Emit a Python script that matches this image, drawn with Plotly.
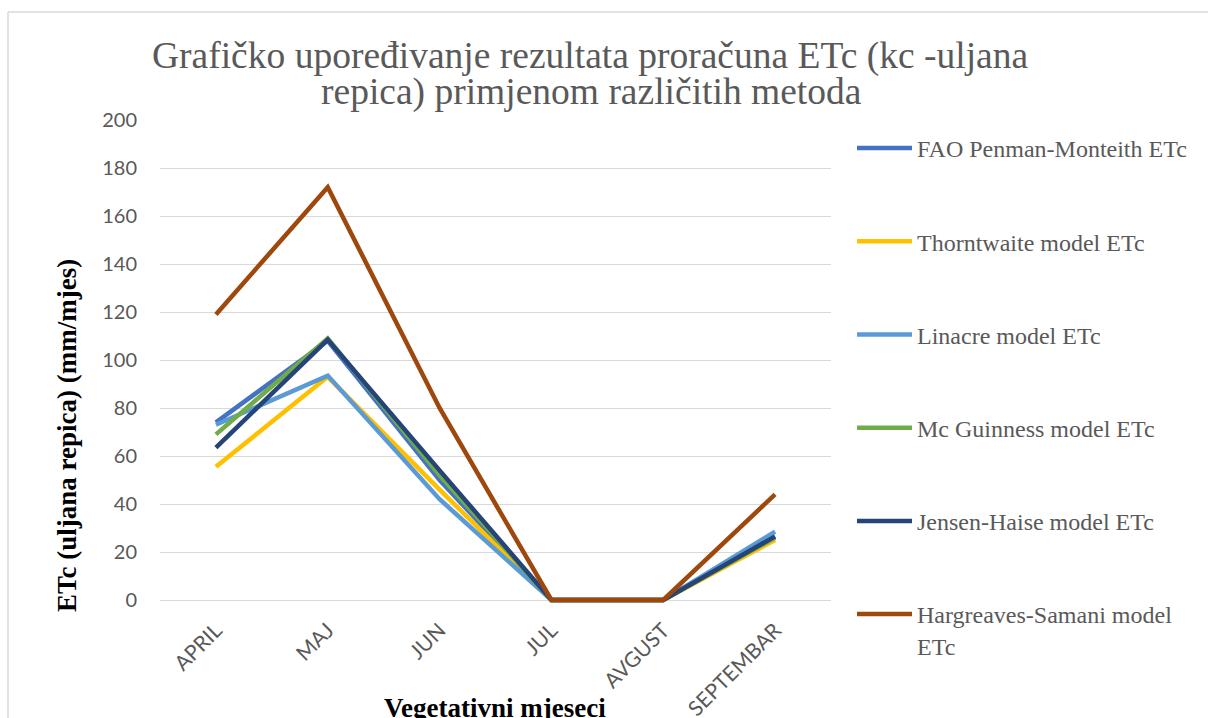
import plotly.graph_objects as go

months = ["APRIL", "MAJ", "JUN", "JUL", "AVGUST", "SEPTEMBAR"]

fao = [74, 108, 50, 0, 0, 26]
thornthwaite = [55.5, 93, 46, 0, 0, 25]
linacre = [73, 93.5, 42, 0, 0, 28.5]
mcguinness = [69, 109, 52, 0, 0, 26]
jensen_haise = [63.5, 108.5, 54, 0, 0, 26.5]
hargreaves = [119, 172, 80, 0, 0, 44]

names = [
    "FAO Penman-Monteith ETc",
    "Thorntwaite model ETc",
    "Linacre model ETc",
    "Mc Guinness model ETc",
    "Jensen-Haise model ETc",
    "Hargreaves-Samani model<br>ETc",
]
series = [fao, thornthwaite, linacre, mcguinness, jensen_haise, hargreaves]
colors = ["#4472C4", "#FFC000", "#5B9BD5", "#70AD47", "#264478", "#9E480E"]

W, H = 1208, 718
# plot area in page pixels
PL, PR, PT, PB = 160, 831, 120, 612
YMIN, YMAX = -5, 200


def px(x):
    return (x - PL) / (PR - PL)


def py(y):
    return (PB - y) / (PB - PT)


fig = go.Figure()
for i, (n, s, c) in enumerate(zip(names, series, colors)):
    fig.add_trace(go.Scatter(
        x=months, y=s, name=n, mode="lines",
        line=dict(color=c, width=4.5),
        legendgroup=f"g{i}",
    ))

serif = "'Liberation Serif', 'Times New Roman', serif"
sans = "Lato, 'Open Sans', sans-serif"
gray = "#595959"

fig.update_layout(
    width=W, height=H,
    margin=dict(l=PL, r=W - PR, t=PT, b=H - PB, autoexpand=False),
    paper_bgcolor="white", plot_bgcolor="white",
    showlegend=True,
    legend=dict(
        x=px(852), y=py(126), xanchor="left", yanchor="top",
        font=dict(family=serif, size=24, color=gray),
        tracegroupgap=59, itemwidth=55, valign="top",
        bgcolor="rgba(0,0,0,0)", maxheight=700,
    ),
    xaxis=dict(
        range=[-0.5, 5.5], automargin=False,
        showgrid=False, showline=False, ticks="",
        tickangle=-45, tickfont=dict(family=sans, size=21, color=gray),
        ticklabelstandoff=1,
    ),
    yaxis=dict(
        range=[YMIN, YMAX], tickvals=list(range(0, 201, 20)), automargin=False,
        showgrid=True, gridcolor="#d9d9d9", gridwidth=1.3,
        zeroline=False, showline=False, ticks="",
        tickfont=dict(family=sans, size=20, color=gray),
        ticklabelstandoff=22,
    ),
    annotations=[
        dict(text="Grafičko upoređivanje rezultata proračuna ETc (kc -uljana",
             xref="paper", yref="paper", x=px(590), y=py(56), xanchor="center", yanchor="middle",
             showarrow=False, font=dict(family=serif, size=37.5, color=gray)),
        dict(text="repica) primjenom različitih metoda",
             xref="paper", yref="paper", x=px(591), y=py(92), xanchor="center", yanchor="middle",
             showarrow=False, font=dict(family=serif, size=37.5, color=gray)),
        dict(text="<b>Vegetativni mjeseci</b>",
             xref="paper", yref="paper", x=px(495), y=py(708), xanchor="center", yanchor="middle",
             showarrow=False, font=dict(family=serif, size=27, color="black")),
        dict(text="<b>ETc (uljana repica) (mm/mjes)</b>",
             xref="paper", yref="paper", x=px(67), y=py(436), xanchor="center", yanchor="middle",
             textangle=-90, showarrow=False, font=dict(family=serif, size=27, color="black")),
    ],
    shapes=[
        dict(type="line", xref="paper", yref="paper", x0=px(8), x1=px(1215), y0=py(12), y1=py(12),
             line=dict(color="#d9d9d9", width=1.5)),
        dict(type="line", xref="paper", yref="paper", x0=px(8), x1=px(8), y0=py(12), y1=py(730),
             line=dict(color="#d9d9d9", width=1.5)),
    ],
)

fig.write_html("out.html", config={"displayModeBar": False},
               post_script="document.body.style.margin='0';")
